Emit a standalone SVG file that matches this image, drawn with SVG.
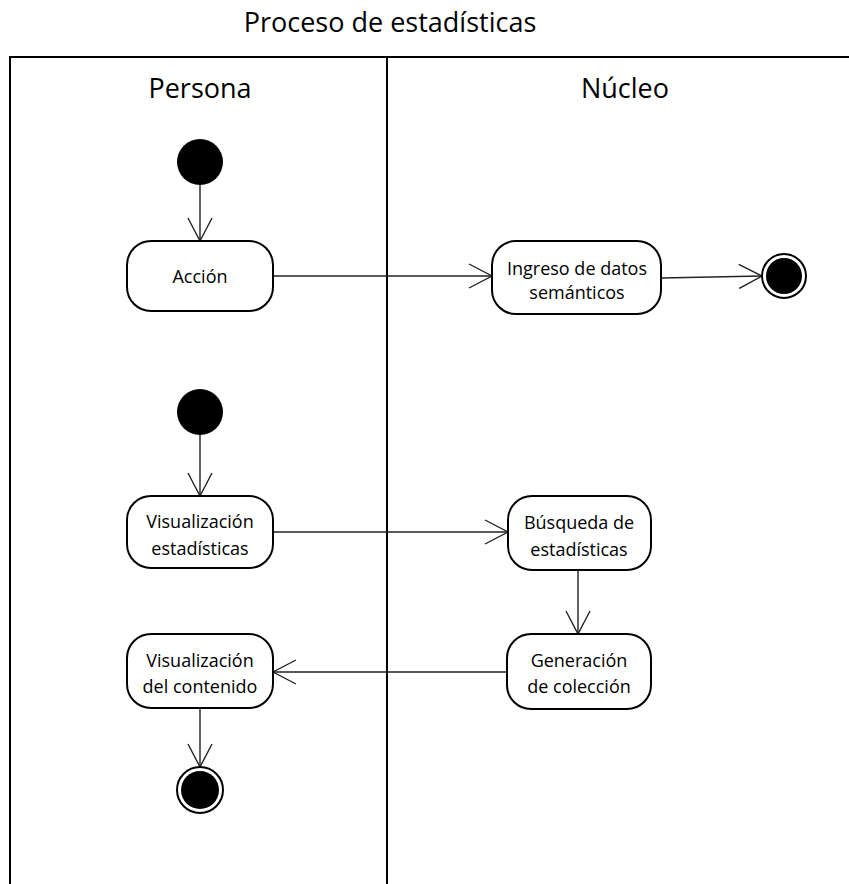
<svg xmlns="http://www.w3.org/2000/svg" width="849" height="884" viewBox="0 0 849 884">
  <style>
    .title { font-family: "Open Sans", "Noto Sans", "Liberation Sans", sans-serif; font-size: 27px; fill: #000; text-anchor: middle; }
    .lane { font-family: "Open Sans", "Noto Sans", "Liberation Sans", sans-serif; font-size: 27px; fill: #000; text-anchor: middle; }
    .label { font-family: "Open Sans", "Noto Sans", "Liberation Sans", sans-serif; font-size: 18px; fill: #000; text-anchor: middle; }
    .frame { fill: none; stroke: #000; stroke-width: 2; }
    .box { fill: #fff; stroke: #000; stroke-width: 2; }
    .edge { fill: none; stroke: #222; stroke-width: 1.4; }
  </style>
  <defs>
    <marker id="open" viewBox="0 0 26 26" refX="24" refY="13" markerWidth="26" markerHeight="26" markerUnits="userSpaceOnUse" orient="auto">
      <path d="M1,1 L24,13 L1,25" fill="none" stroke="#222" stroke-width="1.4"/>
    </marker>
  </defs>
  <rect width="849" height="884" fill="#fff"/>

  <text class="title" x="390" y="32">Proceso de estadísticas</text>

  <!-- swimlane frame -->
  <g id="lanes">
    <path class="frame" d="M10,884 V57 H849"/>
    <line class="frame" x1="387" y1="57" x2="387" y2="884"/>
    <text class="lane" x="200" y="98">Persona</text>
    <text class="lane" x="625" y="98">Núcleo</text>
  </g>

  <!-- connectors -->
  <g id="connectors">
    <line class="edge" x1="200" y1="185" x2="200" y2="241" marker-end="url(#open)"/>
    <line class="edge" x1="273" y1="276" x2="492" y2="276" marker-end="url(#open)"/>
    <line class="edge" x1="661" y1="278" x2="762" y2="276" marker-end="url(#open)"/>
    <line class="edge" x1="200" y1="435" x2="200" y2="496" marker-end="url(#open)"/>
    <line class="edge" x1="273" y1="532" x2="508" y2="532" marker-end="url(#open)"/>
    <line class="edge" x1="578" y1="570" x2="578" y2="634" marker-end="url(#open)"/>
    <line class="edge" x1="507" y1="672" x2="273" y2="672" marker-end="url(#open)"/>
    <line class="edge" x1="200" y1="708" x2="200" y2="767" marker-end="url(#open)"/>
  </g>

  <!-- nodes -->
  <g id="start1"><circle cx="200" cy="162" r="23" fill="#000"/></g>

  <g id="accion">
    <rect class="box" x="127" y="241" width="146" height="70" rx="24"/>
    <text class="label" x="200" y="283">Acción</text>
  </g>

  <g id="ingreso">
    <rect class="box" x="492" y="241" width="169" height="73" rx="24"/>
    <text class="label" x="577" y="275">Ingreso de datos</text>
    <text class="label" x="577" y="299">semánticos</text>
  </g>

  <g id="end1">
    <circle cx="784" cy="276" r="22" fill="#fff" stroke="#000" stroke-width="2"/>
    <circle cx="784" cy="276" r="18" fill="#000"/>
  </g>

  <g id="start2"><circle cx="200" cy="412" r="23" fill="#000"/></g>

  <g id="visEstadisticas">
    <rect class="box" x="127" y="496" width="146" height="72" rx="24"/>
    <text class="label" x="200" y="528">Visualización</text>
    <text class="label" x="200" y="555">estadísticas</text>
  </g>

  <g id="busqueda">
    <rect class="box" x="508" y="496" width="143" height="74" rx="24"/>
    <text class="label" x="579" y="529">Búsqueda de</text>
    <text class="label" x="579" y="556">estadísticas</text>
  </g>

  <g id="generacion">
    <rect class="box" x="507" y="634" width="144" height="75" rx="24"/>
    <text class="label" x="579" y="667">Generación</text>
    <text class="label" x="579" y="693">de colección</text>
  </g>

  <g id="visContenido">
    <rect class="box" x="127" y="634" width="146" height="74" rx="24"/>
    <text class="label" x="200" y="667">Visualización</text>
    <text class="label" x="200" y="693">del contenido</text>
  </g>

  <g id="end2">
    <circle cx="200" cy="790" r="23" fill="#fff" stroke="#000" stroke-width="2"/>
    <circle cx="200" cy="790" r="19" fill="#000"/>
  </g>
</svg>
